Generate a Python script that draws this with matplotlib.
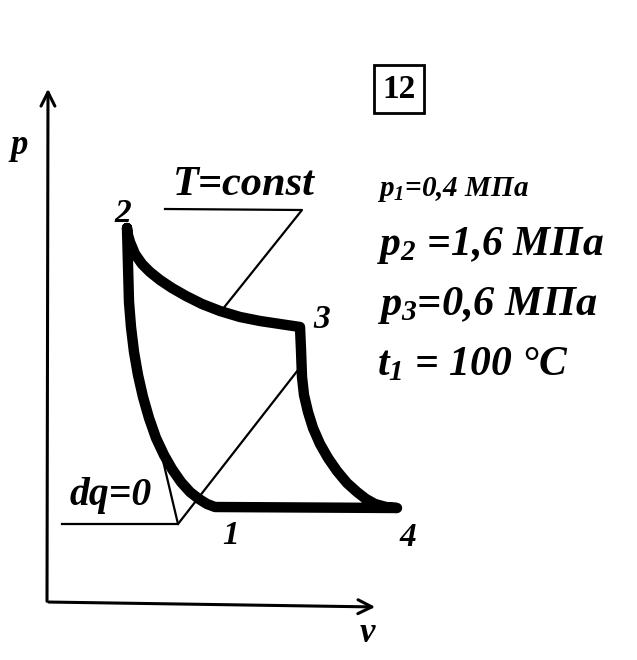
import matplotlib.pyplot as plt

# cycle (figure pixel units, y down)
iso_x = [127, 128, 130, 135, 142, 150, 160, 172, 186, 202, 220, 240, 260, 280, 300]
iso_y = [228, 235, 242, 254, 264, 272, 280, 288, 296, 304, 311, 317, 321, 324, 327]
ad34_x = [300, 301, 302, 304, 308, 313, 320, 328, 337, 347, 357, 366, 375, 386, 397]
ad34_y = [327, 350, 377, 395, 412, 428, 444, 458, 471, 483, 492, 499, 504, 507, 508]
ad12_x = [215, 207, 199, 190, 181, 172, 164, 156, 149, 143, 138, 134, 131, 129, 128, 127]
ad12_y = [507, 504, 499, 492, 482, 469, 455, 438, 418, 397, 375, 352, 327, 302, 265, 228]

point_labels = ['1', '2', '3', '4']
point_xy = [(231, 536), (123, 213), (322, 319), (408, 537)]

params = [r'$p_{1}$=0,4 МПа', r'$p_{2}$ =1,6 МПа', r'$p_{3}$=0,6 МПа', r'$t_{1}$ = 100 °C']
params_y = [190, 245, 305, 365]
params_fs = [21, 30, 30.5, 30]

plt.rcParams['mathtext.fontset'] = 'custom'
plt.rcParams['mathtext.it'] = 'Liberation Serif:italic:bold'
plt.rcParams['mathtext.rm'] = 'Liberation Serif:italic:bold'

fig = plt.figure(figsize=(6.37, 6.60), dpi=100)
ax = fig.add_axes([0, 0, 1, 1])
ax.set_xlim(0, 637)
ax.set_ylim(660, 0)
ax.axis('off')

bi = dict(family='Liberation Serif', weight='bold', style='italic', color='black')

# axes arrows
ax.annotate('', xy=(48, 86), xytext=(47, 604),
            arrowprops=dict(arrowstyle='->', lw=2.2, color='black', mutation_scale=25))
ax.annotate('', xy=(378, 607), xytext=(46, 602),
            arrowprops=dict(arrowstyle='->', lw=2.2, color='black', mutation_scale=25))
ax.text(19, 146, 'p', fontsize=25, ha='center', va='center', **bi)
ax.text(367, 634, 'v', fontsize=25, ha='center', va='center', **bi)

# the cycle
cx = iso_x + ad34_x + ad12_x
cy = iso_y + ad34_y + ad12_y
ax.plot(cx, cy, color='black', lw=7.5, solid_joinstyle='round', solid_capstyle='round')

# leader lines
ax.plot([165, 302, 222], [209, 210, 310], color='black', lw=1.6)
ax.plot([62, 178, 160], [524, 524, 448], color='black', lw=1.6)
ax.plot([178, 298], [524, 370], color='black', lw=1.6)
ax.text(244, 185, 'T=const', fontsize=30.5, ha='center', va='center', **bi)
ax.text(111, 496, 'dq=0', fontsize=28.5, ha='center', va='center', **bi)

for lab, (x, y) in zip(point_labels, point_xy):
    ax.text(x, y, lab, fontsize=24, ha='center', va='center', **bi)

ax.text(399, 89, '12', fontsize=24, ha='center', va='center', family='Liberation Serif',
        weight='bold', bbox=dict(boxstyle='square,pad=0.25', fc='white', ec='black', lw=2))

for s, y, fs in zip(params, params_y, params_fs):
    ax.text(377, y, s, fontsize=fs, ha='left', va='center', **bi)

fig.savefig('out.png', dpi=100, facecolor='white')
